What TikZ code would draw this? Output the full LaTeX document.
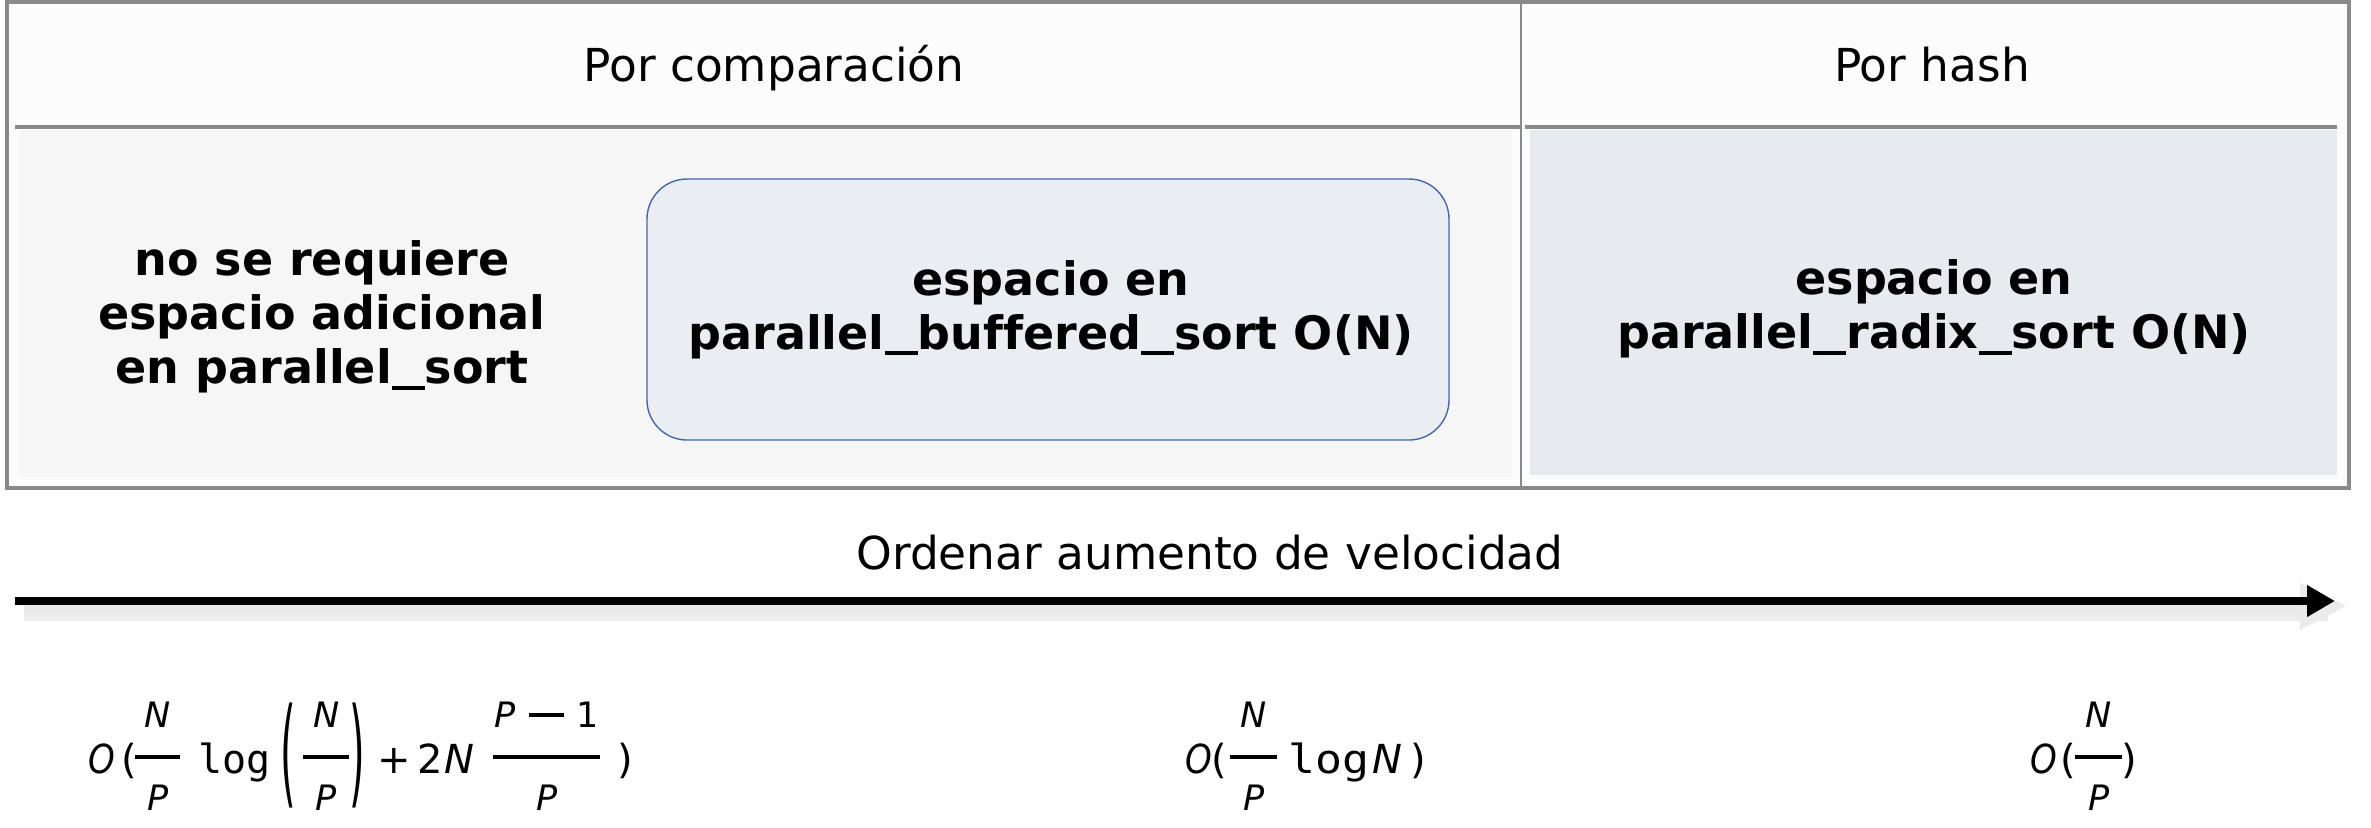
\documentclass[tikz,border=0pt]{standalone}
\usepackage{fontspec}
\usepackage{graphicx}
\setmainfont[Ligatures=NoCommon]{DejaVu Sans}
\newfontfamily\fsans{DejaVu Sans}
\newfontfamily\fmono{DejaVu Sans Mono}
\usetikzlibrary{arrows.meta}
\definecolor{bordergray}{HTML}{8A8A8A}
\definecolor{headbg}{HTML}{FCFCFC}
\definecolor{leftbg}{HTML}{F6F6F6}
\definecolor{rightbg}{HTML}{E7EAEE}
\definecolor{boxbg}{HTML}{EAEEF2}
\definecolor{boxline}{HTML}{4466B4}
\newcommand{\us}{\rule[-3pt]{16.5pt}{2pt}}
\newcommand{\fracit}{\fontsize{17.5}{17.5}\selectfont\itshape}
% fraction: #1 bar width, #2 numerator, #3 denominator
\newcommand{\fr}[3]{\raisebox{-18.5pt}{\vbox{\offinterlineskip
  \hbox to #1{\hss\fracit #2\hss}\kern14pt
  \hrule height 2pt\kern12.75pt
  \hbox to #1{\hss\fracit #3\hss}}}}
\newcommand{\at}[2]{\rlap{\kern#1\relax #2}}
\newcommand{\Oit}{\scalebox{0.85}[1]{\itshape O}}
\newcommand{\bigparL}{\raisebox{-9.75pt}{\scalebox{1}[2.95]{(}}}
\newcommand{\bigparR}{\raisebox{-9.75pt}{\scalebox{1}[2.95]{)}}}
\newcommand{\mminus}{\rule[5pt]{17.5pt}{2pt}}
\tikzset{
  headtxt/.style={font=\fontsize{22.7}{27}\selectfont, inner sep=0pt},
  celltxt/.style={font=\fontsize{23}{27}\selectfont\bfseries, align=center, inner sep=0pt},
  formula/.style={font=\fontsize{20}{24}\selectfont, inner sep=0pt, anchor=base west},
  cellline/.style={draw=bordergray, line width=1.6pt},
}
\begin{document}
\begin{tikzpicture}[x=0.5pt,y=-0.5pt]
\useasboundingbox (0,0) rectangle (2371,827);
\fill[white] (0,0) rectangle (2371,827);
% table
\fill[headbg] (7,2) rectangle (2349,488);
\fill[leftbg] (19,130) rectangle (1512,477);
\fill[rightbg] (1530,130) rectangle (2337,475);
\draw[cellline] (15,127) -- (1521,127);
\draw[cellline] (1525,127) -- (2337,127);
\draw[draw=bordergray, line width=1.1pt] (1521,2) -- (1521,488);
\draw[cellline] (7,2) rectangle (2349,488);
% rounded box
\node[draw=boxline, fill=boxbg, line width=0.7pt, rounded corners=20pt,
  minimum width=401pt, minimum height=130.5pt, inner sep=0pt] (bbox) at (1048,309.5) {};
% texts
\node[headtxt, anchor=base] (hcomp) at (774,81) {Por comparación};
\node[headtxt, anchor=base] (hhash) at (1932,81) {Por hash};
\node[celltxt] (tleft) at (322,317) {no se requiere\\espacio adicional\\en parallel\us sort};
\node[celltxt] (tmid) at (1051,309.5) {espacio en\\parallel\us buffered\us sort O(N)};
\node[celltxt] (tright) at (1934,309) {espacio en\\parallel\us radix\us sort O(N)};
% arrow
\coordinate (as) at (15,601);
\coordinate (ae) at (2335,601);
\draw[line width=11pt, black!7] (24,610) -- (2328,610);
\draw[line width=6pt, black!9] (24,609) -- (2326,609);
\fill[black!8] (2300,583) -- (2346,606) -- (2300,630) -- cycle;
\draw[line width=3.8pt, -{Triangle[length=14pt,width=15pt]}] (as) -- (ae);
\node[headtxt] (alabel) at (1210,553) {Ordenar aumento de velocidad};
% formulas
\node[formula] (f1) at (88,773) {\at{0pt}{\Oit}\at{16.5pt}{(}\at{23.5pt}{\fr{22.5pt}{N}{P}}%
  \at{55pt}{\fmono log}\at{96pt}{\bigparL}\at{107.5pt}{\fr{23pt}{N}{P}}\at{130.5pt}{\bigparR}%
  \at{144.5pt}{+}\at{164.5pt}{2}\at{178pt}{\itshape N}%
  \at{202.5pt}{\fr{53.5pt}{P\kern6.5pt\mminus\kern6.5pt{\upshape 1}}{P}}\at{264.5pt}{)}\kern275pt};
\node[formula] (f2) at (1185,773) {\at{0pt}{\Oit}\at{13pt}{(}\at{22.5pt}{\fr{23.5pt}{N}{P}}%
  \at{51.5pt}{\scalebox{1.12}[1]{\fmono log}}\at{93.5pt}{\itshape N}\at{112.5pt}{)}\kern121pt};
\node[formula] (f3) at (2030,773) {\at{0pt}{\Oit}\at{15pt}{(}\at{22.5pt}{\fr{23.5pt}{N}{P}}%
  \at{45.5pt}{)}\kern54pt};
\end{tikzpicture}
\end{document}
